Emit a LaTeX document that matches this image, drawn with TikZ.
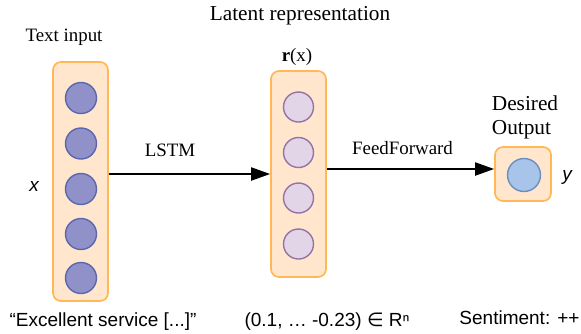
\documentclass[tikz,border=0pt]{standalone}
\usepackage{fontspec}
\setmainfont{Liberation Serif}
\setsansfont{Liberation Sans}
\newfontfamily\symfont{DejaVu Sans}
\usetikzlibrary{arrows.meta}
\definecolor{boxfill}{HTML}{FFE6CC}
\definecolor{boxdraw}{HTML}{FFB857}
\definecolor{inpfill}{HTML}{9191C9}
\definecolor{inpdraw}{HTML}{5A66AE}
\definecolor{latfill}{HTML}{E1D5E7}
\definecolor{latdraw}{HTML}{9673A6}
\definecolor{outfill}{HTML}{A9C4EB}
\definecolor{outdraw}{HTML}{6C8EBF}
\tikzset{
  layerbox/.style={draw=boxdraw, fill=boxfill, line width=1.7pt, rounded corners=8pt, inner sep=0pt},
  inpunit/.style={circle, draw=inpdraw, fill=inpfill, line width=1.4pt, minimum size=31pt, inner sep=0pt},
  latunit/.style={circle, draw=latdraw, fill=latfill, line width=1.4pt, minimum size=30pt, inner sep=0pt},
  outunit/.style={circle, draw=outdraw, fill=outfill, line width=1.4pt, minimum size=33pt, inner sep=0pt},
  arr/.style={line width=2pt, -{Triangle[length=19pt,width=13pt]}},
  lbl/.style={font=\fontsize{18.9}{22}\selectfont, inner sep=0pt},
  biglbl/.style={font=\fontsize{21.3}{24}\selectfont, inner sep=0pt},
  slbl/.style={font=\fontsize{19}{22}\selectfont\sffamily, inner sep=0pt},
}
\begin{document}
\begin{tikzpicture}[x=1pt,y=-1pt]
\useasboundingbox (0,0) rectangle (581,333);
% boxes
\node[layerbox, minimum width=55pt, minimum height=239pt] (lbox) at (80.5,181.5) {};
\node[layerbox, minimum width=55pt, minimum height=206pt] (mbox) at (298.5,174) {};
\node[layerbox, minimum width=56pt, minimum height=54pt] (obox) at (523,174) {};
% input units
\node[inpunit] (i1) at (81,98) {};
\node[inpunit] (i2) at (81,143.5) {};
\node[inpunit] (i3) at (81,189) {};
\node[inpunit] (i4) at (81,234) {};
\node[inpunit] (i5) at (81,278) {};
% latent units
\node[latunit] (r1) at (298.5,107) {};
\node[latunit] (r2) at (298.5,152.5) {};
\node[latunit] (r3) at (298.5,198) {};
\node[latunit] (r4) at (298.5,244) {};
% output unit
\node[outunit] (o1) at (524,175) {};
% arrows
\draw[arr] (lbox.east |- mbox.center) -- (mbox.west);
\draw[arr] ([yshift=5pt]mbox.east) -- ([yshift=5pt]obox.west);
% labels
\node[biglbl] (tlat) at (300,16) {Latent representation};
\node[lbl] (ttxt) at (64,37) {Text input};
\node[lbl] (trx) at (297,57) {$\mathbf{r}$(x)};
\node[lbl] (tlstm) at (170,150) {LSTM};
\node[lbl] (tff) at (402.5,148) {FeedForward};
\node[biglbl, align=left] (tdes) at (525,117) {Desired\\Output};
\node[slbl] (tx) at (34,186) {\itshape x};
\node[slbl] (ty) at (567,177) {\itshape y};
\node[slbl] (texc) at (103,322) {“Excellent service [...]”};
\node[slbl] (tvec) at (327,322) {(0.1, … -0.23) {\symfont ∈} Rⁿ};
\node[slbl] (tsent) at (519.5,318) {Sentiment: ++};
\end{tikzpicture}
\end{document}
